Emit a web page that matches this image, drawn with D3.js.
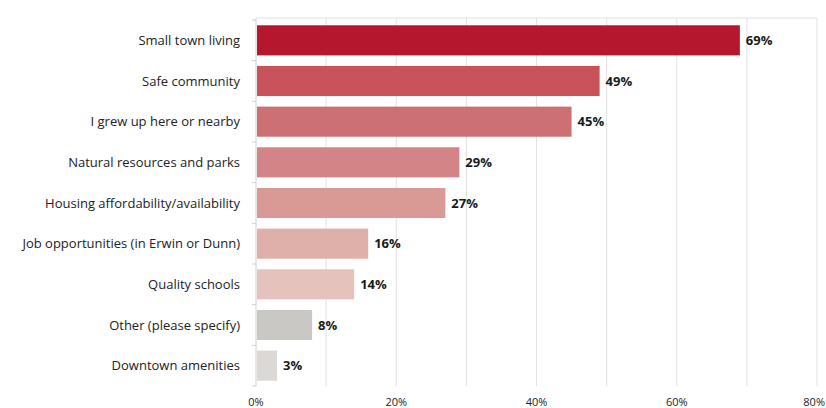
<!DOCTYPE html>
<html>
<head>
<meta charset="utf-8">
<script src="https://cdn.jsdelivr.net/npm/d3@7"></script>
<style>
  body { margin: 0; background: #fff; }
  svg { display: block; font-family: "Open Sans", sans-serif; }
</style>
</head>
<body>
<div class="chart"></div>
<script>
// data
var categories = [
  "Small town living",
  "Safe community",
  "I grew up here or nearby",
  "Natural resources and parks",
  "Housing affordability/availability",
  "Job opportunities (in Erwin or Dunn)",
  "Quality schools",
  "Other (please specify)",
  "Downtown amenities"
];
var values = [69, 49, 45, 29, 27, 16, 14, 8, 3];
var barColors = ["#b5172e", "#c9535b", "#cd7073", "#d38486", "#d99a96", "#dfb0aa", "#e6c2bc", "#c9c8c4", "#dcd8d6"];
var tickValues = [0, 20, 40, 60, 80];
var gridValues = [0, 10, 20, 30, 40, 50, 60, 70, 80];

var svgWidth = 826, svgHeight = 408;

var svg = d3.select(".chart").append("svg")
  .attr("width", svgWidth)
  .attr("height", svgHeight);

var xScale = d3.scaleLinear().domain([0, 80]).range([256, 817]);
var yScale = d3.scaleBand().domain(categories).range([20, 386])
  .paddingInner(0.26).paddingOuter(0.13);

var data = categories.map(function(c, i) {
  return { name: c, value: values[i], color: barColors[i] };
});

// vertical gridlines
svg.append("g").selectAll("line")
  .data(gridValues)
  .enter()
  .append("line")
  .attr("x1", d => xScale(d))
  .attr("x2", d => xScale(d))
  .attr("y1", 18)
  .attr("y2", 386)
  .attr("stroke", d => d === 0 ? "#d0d0d0" : "#e2e2e2")
  .attr("stroke-width", 1);

// top border line
svg.append("line")
  .attr("x1", xScale(0)).attr("x2", xScale(80))
  .attr("y1", 18).attr("y2", 18)
  .attr("stroke", "#e2e2e2");

// small ticks on the left axis between bands
var boundaries = d3.range(categories.length + 1).map(i => 20 + i * yScale.step());
svg.append("g").selectAll("line")
  .data(boundaries)
  .enter()
  .append("line")
  .attr("x1", xScale(0) - 4)
  .attr("x2", xScale(0))
  .attr("y1", d => d)
  .attr("y2", d => d)
  .attr("stroke", "#d0d0d0");

// bars
svg.append("g").selectAll("rect")
  .data(data)
  .enter()
  .append("rect")
  .attr("x", xScale(0) + 1)
  .attr("y", d => yScale(d.name))
  .attr("width", d => xScale(d.value) - xScale(0) - 1)
  .attr("height", yScale.bandwidth())
  .attr("fill", d => d.color);

// category labels
svg.append("g").selectAll("text")
  .data(data)
  .enter()
  .append("text")
  .attr("x", 240)
  .attr("y", d => yScale(d.name) + yScale.bandwidth() / 2)
  .attr("dy", "0.35em")
  .attr("text-anchor", "end")
  .style("font-size", "13px")
  .style("fill", "#222")
  .text(d => d.name);

// value labels
svg.append("g").selectAll("text")
  .data(data)
  .enter()
  .append("text")
  .attr("x", d => xScale(d.value) + 6)
  .attr("y", d => yScale(d.name) + yScale.bandwidth() / 2)
  .attr("dy", "0.35em")
  .style("font-size", "13px")
  .style("font-weight", "bold")
  .style("fill", "#1a1a1a")
  .text(d => d.value + "%");

// x axis tick labels (last one kept inside the edge)
svg.append("g").selectAll("text")
  .data(tickValues)
  .enter()
  .append("text")
  .attr("x", d => d === 80 ? svgWidth - 1 : xScale(d))
  .attr("y", 406)
  .attr("text-anchor", d => d === 80 ? "end" : "middle")
  .style("font-size", "11px")
  .style("fill", "#222")
  .text(d => d + "%");
</script>
</body>
</html>
